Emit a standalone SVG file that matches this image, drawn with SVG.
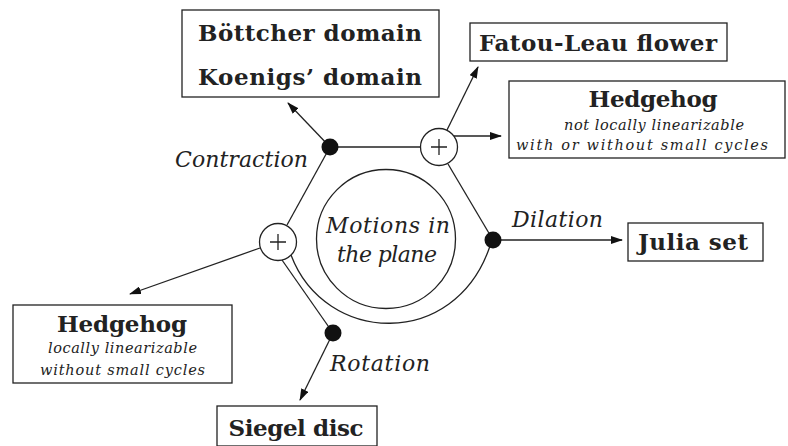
<svg xmlns="http://www.w3.org/2000/svg" width="788" height="446" viewBox="0 0 788 446">
<style>
.box{fill:#fff;stroke:#222;stroke-width:1.3}
.ln{fill:none;stroke:#222;stroke-width:1.3}
.dot{fill:#111}
.pc{fill:#fff;stroke:#222;stroke-width:1.3}
.b{font-family:"DejaVu Serif",serif;font-weight:bold;font-size:23px;fill:#222}
.i{font-family:"DejaVu Serif",serif;font-style:italic;font-size:22px;fill:#222}
.s{font-family:"DejaVu Serif",serif;font-style:italic;font-size:14.5px;fill:#222}
</style>
<defs>
<marker id="ah" markerWidth="12" markerHeight="8" refX="11" refY="4" orient="auto" markerUnits="userSpaceOnUse">
<path d="M0,0 L12,4 L0,8 Z" fill="#111"/>
</marker>
</defs>
<g id="connectors">
<line class="ln" x1="330" y1="147" x2="288" y2="103" marker-end="url(#ah)"/>
<line class="ln" x1="330" y1="147" x2="420" y2="147"/>
<line class="ln" x1="330" y1="147" x2="287" y2="225"/>
<line class="ln" x1="447" y1="130" x2="478" y2="67" marker-end="url(#ah)"/>
<line class="ln" x1="454" y1="136" x2="501" y2="136" marker-end="url(#ah)"/>
<line class="ln" x1="448" y1="164" x2="493" y2="240"/>
<line class="ln" x1="493" y1="240" x2="622" y2="240" marker-end="url(#ah)"/>
<line class="ln" x1="260" y1="248" x2="130" y2="294" marker-end="url(#ah)"/>
<line class="ln" x1="282" y1="260" x2="333" y2="333"/>
<line class="ln" x1="333" y1="333" x2="300" y2="400" marker-end="url(#ah)"/>
<path class="ln" d="M291,255 C325,345 455,350 490,246"/>
</g>
<g id="center">
<circle class="ln" cx="386" cy="239" r="69.5"/>
<text class="i" x="388" y="233" text-anchor="middle" textLength="124">Motions in</text>
<text class="i" x="387" y="262" text-anchor="middle" textLength="100">the plane</text>
</g>
<g id="contraction">
<circle class="dot" cx="330" cy="147" r="8.5"/>
<text class="i" x="175" y="167" textLength="133">Contraction</text>
</g>
<g id="dilation">
<circle class="dot" cx="493" cy="240" r="8.5"/>
<text class="i" x="512" y="227" textLength="91">Dilation</text>
</g>
<g id="rotation">
<circle class="dot" cx="333" cy="333" r="8.5"/>
<text class="i" x="330" y="371" textLength="100">Rotation</text>
</g>
<g id="plus-top">
<circle class="pc" cx="439" cy="147" r="18.5"/>
<path class="ln" d="M431,147 H447 M439,139 V155"/>
</g>
<g id="plus-left">
<circle class="pc" cx="278" cy="242" r="18.5"/>
<path class="ln" d="M270,242 H286 M278,234 V250"/>
</g>
<g id="bottcher">
<rect class="box" x="182" y="10" width="257" height="87"/>
<text class="b" x="310" y="41" text-anchor="middle" textLength="224">Böttcher domain</text>
<text class="b" x="310" y="85" text-anchor="middle" textLength="224">Koenigs’ domain</text>
</g>
<g id="fatou">
<rect class="box" x="470" y="23" width="257" height="38"/>
<text class="b" x="598" y="51" text-anchor="middle" textLength="238">Fatou-Leau flower</text>
</g>
<g id="hedgehog-right">
<rect class="box" x="509" y="81" width="276" height="77"/>
<text class="b" x="653" y="107" text-anchor="middle" textLength="129">Hedgehog</text>
<text class="s" x="654" y="130" text-anchor="middle" textLength="180">not locally linearizable</text>
<text class="s" x="642" y="150" text-anchor="middle" textLength="252">with or without small cycles</text>
</g>
<g id="julia">
<rect class="box" x="628" y="223" width="135" height="38"/>
<text class="b" x="693" y="250" text-anchor="middle" textLength="110">Julia set</text>
</g>
<g id="hedgehog-left">
<rect class="box" x="13" y="305" width="219" height="78"/>
<text class="b" x="122" y="332" text-anchor="middle" textLength="130">Hedgehog</text>
<text class="s" x="122.5" y="353" text-anchor="middle" textLength="149">locally linearizable</text>
<text class="s" x="122.5" y="375" text-anchor="middle" textLength="165">without small cycles</text>
</g>
<g id="siegel">
<rect class="box" x="217" y="406" width="160" height="40"/>
<text class="b" x="296" y="436" text-anchor="middle" textLength="135">Siegel disc</text>
</g>
</svg>
